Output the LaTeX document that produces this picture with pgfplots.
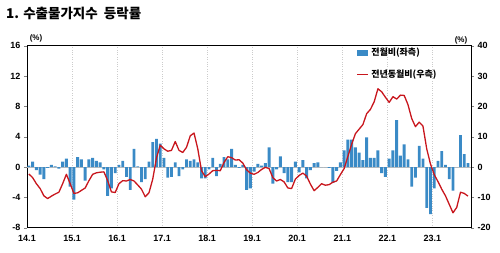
\documentclass[border=0pt]{standalone}
\usepackage{pgfplots}
\usepackage{pgfplotstable}
\pgfplotsset{compat=1.18}
\usepackage{fontspec}
\setmainfont{Liberation Sans}
\newfontfamily\kr{Noto Sans CJK KR}
\definecolor{barblue}{HTML}{3A8AC6}
\definecolor{linered}{HTML}{C8161D}

\pgfplotstableread{
x b l
0.5 0.2 -2.3
1.5 0.7 -3.5
2.5 -0.4 -5.5
3.5 -1.0 -7.1
4.5 -1.6 -9.5
5.5 -0.1 -10.4
6.5 0.3 -9.6
7.5 0.1 -8.9
8.5 -0.2 -8.3
9.5 0.7 -5.5
10.5 1.1 -2.4
11.5 -2.6 -5.5
12.5 -4.3 -8.7
13.5 1.3 -8.5
14.5 1.0 -7.7
15.5 -1.8 -6.9
16.5 1.0 -4.5
17.5 1.2 -2.4
18.5 0.8 -1.9
19.5 0.6 -1.7
20.5 -0.3 -1.6
21.5 -3.8 -4.5
22.5 -2.8 -8.2
23.5 -0.8 -8.4
24.5 0.3 -5.5
25.5 0.8 -4.5
26.5 -1.3 -4.6
27.5 -3.0 -4.1
28.5 2.4 -4.6
29.5 0.1 -5.9
30.5 -2.0 -7.3
31.5 -1.6 -9.8
32.5 0.7 -8.5
33.5 3.3 -4.0
34.5 3.7 3.0
35.5 3.1 7.2
36.5 1.2 6.0
37.5 -1.4 5.2
38.5 -1.3 5.5
39.5 0.6 8.4
40.5 -1.2 5.5
41.5 -0.3 4.8
42.5 1.0 6.5
43.5 0.8 10.3
44.5 1.0 11.2
45.5 0.6 6.0
46.5 -1.5 -1.2
47.5 -1.5 -3.2
48.5 -0.3 -2.3
49.5 1.2 -1.2
50.5 -1.2 -1.1
51.5 0.4 -1.2
52.5 1.3 1.5
53.5 1.0 3.4
54.5 2.4 3.1
55.5 0.3 2.3
56.5 -0.1 2.4
57.5 0.3 1.3
58.5 -3.0 -0.9
59.5 -2.8 -2.0
60.5 -0.6 -2.4
61.5 0.4 -1.8
62.5 0.2 -0.8
63.5 0.5 -0.1
64.5 2.6 -0.5
65.5 -2.2 -3.5
66.5 -0.3 -4.6
67.5 1.4 -4.1
68.5 -0.8 -4.9
69.5 -2.0 -6.9
70.5 -2.0 -7.1
71.5 0.7 -4.0
72.5 -0.7 -2.8
73.5 0.9 -2.0
74.5 -1.5 -3.0
75.5 -0.4 -5.6
76.5 0.5 -7.8
77.5 0.6 -6.7
78.5 0.0 -5.5
79.5 0.0 -6.0
80.5 -0.1 -5.8
81.5 -2.1 -5.0
82.5 -0.5 -4.6
83.5 0.6 -2.5
84.5 2.2 -0.5
85.5 3.6 3.5
86.5 3.6 7.5
87.5 2.6 11.0
88.5 1.9 12.5
89.5 0.9 14.0
90.5 3.9 17.6
91.5 1.2 19.0
92.5 1.2 21.5
93.5 2.2 25.8
94.5 -0.8 24.8
95.5 -1.3 23.0
96.5 1.1 21.3
97.5 2.2 23.2
98.5 6.2 22.4
99.5 1.5 23.7
100.5 3.0 23.6
101.5 1.0 20.6
102.5 -2.6 16.0
103.5 -1.4 13.3
104.5 2.8 14.8
105.5 1.1 13.5
106.5 -5.4 6.0
107.5 -6.2 1.0
108.5 -2.8 -2.5
109.5 0.8 -4.8
110.5 2.1 -7.3
111.5 0.3 -9.5
112.5 -1.6 -12.3
113.5 -3.1 -15.1
114.5 0.0 -13.3
115.5 4.2 -8.3
116.5 1.7 -8.7
117.5 0.5 -9.6
}\data

\pgfplotsset{
  common/.style={
    at={(27pt,25.3pt)}, anchor=south west,
    width=444pt, height=182pt, scale only axis,
    xmin=0, xmax=118.3,
    tick align=outside, major tick length=3pt,
    ticklabel style={font=\bfseries\fontsize{9}{10}\selectfont},
    /pgf/number format/assume math mode=true,
    axis line style={black, line width=0.8pt},
  }
}

\begin{document}
\begin{tikzpicture}[x=1pt,y=1pt]
\path[use as bounding box] (0,0) rectangle (500,253);
\node[anchor=west, inner sep=0pt, font=\kr\bfseries\fontsize{13.5}{15}\selectfont] at (6,240) {1. 수출물가지수\ \ 등락률};
\node[font=\bfseries\fontsize{8}{9}\selectfont, inner sep=0pt] at (36,215) {(\%)};
\node[font=\bfseries\fontsize{8}{9}\selectfont, inner sep=0pt] at (461,213) {(\%)};

\begin{axis}[common,
  ymin=-8, ymax=16, ytick={-8,-4,0,4,8,12,16},
  ytick pos=left,
  xtick={0,12,24,36,48,60,72,84,96,108},
  xticklabels={14.1,15.1,16.1,17.1,18.1,19.1,20.1,21.1,22.1,23.1},
  xtick style={draw=none},
  xtick pos=bottom,
  xmajorgrids, grid style={gray!40, dotted, line width=0.6pt},
  xticklabel style={yshift=-1pt},
]
\draw[gray!50, line width=0.5pt] (axis cs:0,0) -- (axis cs:118.3,0);
\addplot[ybar, bar width=2.9pt, bar shift=0pt, fill=barblue, draw=none] table[x=x, y=b]{\data};
\end{axis}

\begin{axis}[common,
  ymin=-20, ymax=40, ytick={-20,-10,0,10,20,30,40},
  axis y line*=right, axis x line=none,
  legend style={at={(0.742,1.0)}, anchor=north west, draw=none, fill=none,
    font=\kr\bfseries\fontsize{9}{10}\selectfont, row sep=9pt, inner sep=0pt},
  legend cell align=left,
]
\addlegendimage{legend image code/.code={\fill[barblue] (0pt,-2.5pt) rectangle (10pt,2.5pt);}}
\addlegendentry{전월비(좌측)}
\addplot[linered, line width=1.3pt, line join=round,
  legend image code/.code={\draw[linered, line width=1.6pt] (0pt,0pt) -- (11pt,0pt);}] table[x=x, y=l]{\data};
\addlegendentry{전년동월비(우측)}
\end{axis}
\end{tikzpicture}
\end{document}
